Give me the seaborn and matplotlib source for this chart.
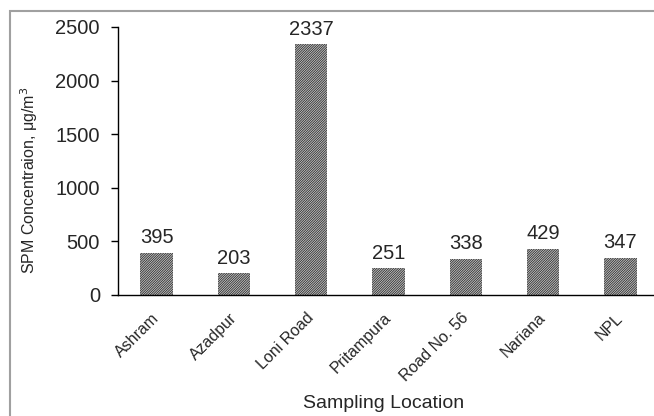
import matplotlib
matplotlib.use("Agg")
import matplotlib.pyplot as plt
import matplotlib.transforms as mtransforms
import seaborn as sns
import pandas as pd
from matplotlib.patches import Rectangle

categories = ["Ashram", "Azadpur", "Loni Road", "Pritampura", "Road No. 56", "Nariana", "NPL"]
values = [395, 203, 2337, 251, 338, 429, 347]
yticks = [0, 500, 1000, 1500, 2000, 2500]

sns.set_theme(style="white")
plt.rcParams['font.family'] = ['Liberation Sans', 'DejaVu Sans']
plt.rcParams['hatch.linewidth'] = 0.55

df = pd.DataFrame({"loc": categories, "val": values})

fig = plt.figure(figsize=(6.54, 4.16), dpi=100)
W, H = 654, 416
ax = fig.add_axes([118 / W, 1 - 295 / H, (659 - 118) / W, (295 - 27) / H])

sns.barplot(data=df, x="loc", y="val", color="#c4c4c4", width=0.42, ax=ax,
            saturation=1)
for p in ax.patches:
    p.set_hatch("/" * 14)
    p.set_edgecolor("#262626")
    p.set_linewidth(0)

ax.set_ylim(0, 2500)
ax.set_xlim(-0.5, len(categories) - 0.5)
ax.set_yticks(yticks)
ax.set_yticklabels([str(t) for t in yticks], fontsize=14.5)
ax.set_xticks(range(len(categories)))
ax.set_xticklabels(categories, rotation=45, ha="right", rotation_mode="anchor", fontsize=11.5)
ax.set_xticks([i - 0.5 for i in range(len(categories) + 1)], minor=True)
ax.tick_params(axis="x", which="major", length=0, pad=11)
ax.tick_params(axis="x", which="minor", length=5, width=1, direction="out", color="black")
ax.tick_params(axis="y", length=5, width=1, direction="out", color="black", pad=8, left=True)
offset = mtransforms.ScaledTranslation(-5 / 100, 0, fig.dpi_scale_trans)
for lbl in ax.get_xticklabels():
    lbl.set_transform(lbl.get_transform() + offset)

for s in ["top", "right"]:
    ax.spines[s].set_visible(False)
for s in ["left", "bottom"]:
    ax.spines[s].set_color("black")
    ax.spines[s].set_linewidth(1)

ax.bar_label(ax.containers[0], labels=[str(v) for v in values], padding=4, fontsize=14.5)

ax.set_xlabel("")
ax.set_ylabel("")
fig.text(384 / W, 1 - 404 / H, "Sampling Location", ha="center", va="center", fontsize=14)
fig.text(29 / W, 1 - 180 / H, "SPM Concentraion, μg/m$^3$", ha="center", va="center",
         rotation=90, fontsize=11.5)

border = Rectangle((10 / W, -0.2), 1.5, 1 - 11 / H + 0.2, transform=fig.transFigure,
                   fill=False, edgecolor="#a0a0a0", linewidth=1.5, clip_on=False)
fig.patches.append(border)

fig.savefig("out.png", dpi=100)
